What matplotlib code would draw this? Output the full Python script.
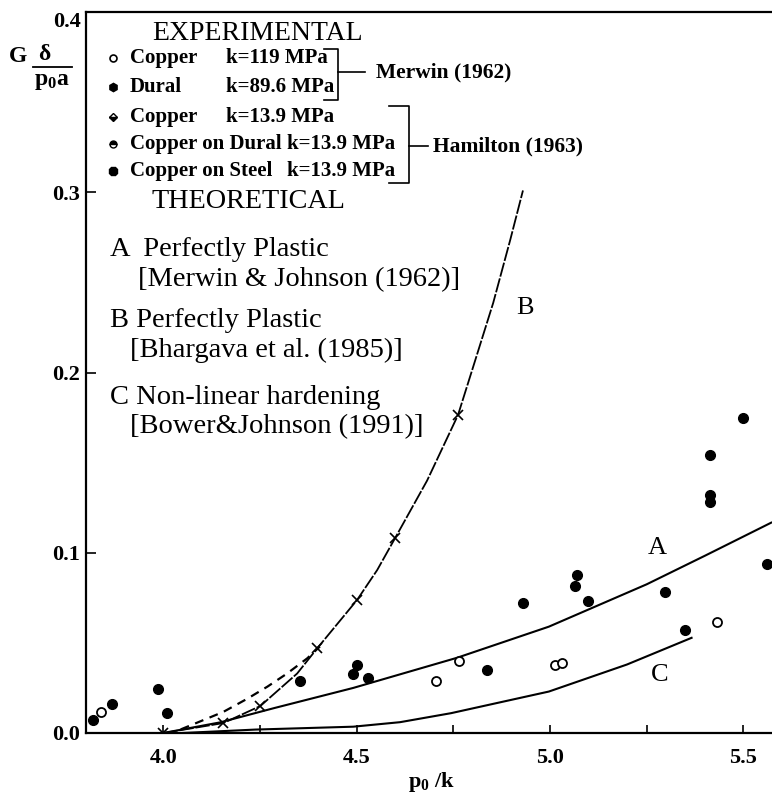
import numpy as np
import matplotlib.pyplot as plt
from matplotlib.lines import Line2D

plt.rcParams['font.family'] = ['Liberation Serif', 'DejaVu Serif']
plt.rcParams['mathtext.fontset'] = 'custom'
plt.rcParams['mathtext.rm'] = 'Liberation Serif:bold'
plt.rcParams['mathtext.bf'] = 'Liberation Serif:bold'
plt.rcParams['mathtext.it'] = 'Liberation Serif:bold'

# --- experimental points ---
copper_119_x = [3.84, 4.705, 4.765, 5.013, 5.031, 5.432]
copper_119_y = [0.0117, 0.029, 0.040, 0.038, 0.039, 0.0616]

dural_x = [4.837, 4.930, 5.070, 5.065, 5.098, 5.297, 5.349, 5.413, 5.413, 5.413, 5.499, 5.561]
dural_y = [0.035, 0.072, 0.0877, 0.0816, 0.073, 0.078, 0.057, 0.154, 0.132, 0.128, 0.175, 0.094]

hamilton_x = [3.819, 3.868, 3.987, 4.010, 4.354, 4.501, 4.491, 4.530]
hamilton_y = [0.0072, 0.016, 0.0244, 0.011, 0.029, 0.0377, 0.033, 0.0305]

# --- theoretical curves ---
curve_a_x = [4.0, 4.147, 4.288, 4.491, 4.759, 4.997, 5.25, 5.402, 5.572]
curve_a_y = [0.0, 0.0059, 0.0139, 0.0250, 0.0417, 0.059, 0.0825, 0.0985, 0.1167]

curve_b_x = [4.0, 4.155, 4.251, 4.346, 4.398, 4.501, 4.553, 4.599, 4.682,
             4.762, 4.801, 4.853, 4.897, 4.930]
curve_b_y = [0.0, 0.0055, 0.015, 0.033, 0.047, 0.0738, 0.0904, 0.108, 0.140,
             0.1764, 0.203, 0.2386, 0.2735, 0.301]
b_marks = [0, 1, 2, 4, 5, 7, 9]

curve_b2_x = [4.045, 4.155, 4.217, 4.269, 4.32, 4.372, 4.405]
curve_b2_y = [0.002, 0.0117, 0.019, 0.0257, 0.033, 0.0414, 0.048]

curve_c_x = [4.05, 4.238, 4.491, 4.612, 4.744, 4.997, 5.199, 5.366]
curve_c_y = [0.0, 0.0019, 0.0035, 0.0060, 0.011, 0.023, 0.038, 0.0528]

x_ticks = [4.0, 4.5, 5.0, 5.5]
x_minor = [4.25, 4.75, 5.25]
y_ticks = [0.0, 0.1, 0.2, 0.3, 0.4]

W, H = 772, 798
fig = plt.figure(figsize=(W / 100, H / 100), dpi=100)
ax = fig.add_axes([86 / W, 1 - 733 / H, (W - 86) / W, (733 - 12) / H])


def px(x, y):
    return x / W, 1 - y / H


# curves
ax.plot(curve_a_x, curve_a_y, color='black', lw=1.5)
ax.plot(curve_c_x, curve_c_y, color='black', lw=1.5)
ax.plot(curve_b_x, curve_b_y, color='black', lw=1.3, ls=(0, (8, 1)),
        marker='x', markevery=b_marks, ms=7, mew=1.2)
ax.plot(curve_b2_x, curve_b2_y, color='black', lw=1.6, ls=(0, (4, 3)))

# experiments
ax.plot(dural_x, dural_y, 'o', color='black', ms=7)
ax.plot(hamilton_x, hamilton_y, 'o', color='black', ms=7)
ax.plot(copper_119_x, copper_119_y, 'o', mfc='white', mec='black', ms=6.5, mew=1.3)

ax.text(5.276, 0.1026, 'A', fontsize=19, ha='center', va='center')
ax.text(4.935, 0.236, 'B', fontsize=19, ha='center', va='center')
ax.text(5.284, 0.032, 'C', fontsize=19, ha='center', va='center')

ax.set_xlim(3.8, 5.574)
ax.set_ylim(0, 0.4)
ax.set_xticks(x_ticks, [f'{v:.1f}' for v in x_ticks], fontsize=16, fontweight='bold')
ax.set_xticks(x_minor, minor=True)
ax.set_yticks(y_ticks, [f'{v:.1f}' for v in y_ticks], fontsize=16, fontweight='bold')
ax.get_yticklabels()[-1].set_va('top')
ax.tick_params(axis='x', which='both', direction='in', length=6, width=1.2, pad=11)
ax.tick_params(axis='y', direction='in', length=7, width=1.2, pad=4)
ax.spines['right'].set_visible(False)
for s in ['left', 'bottom', 'top']:
    ax.spines[s].set_linewidth(1.6)

# y label as a fraction
fig.text(*px(18, 57), 'G', fontsize=17, fontweight='bold', ha='center', va='center')
fig.text(*px(44, 55), 'δ', fontsize=17, fontweight='bold', ha='center', va='center')
fig.add_artist(Line2D([33 / W, 72 / W], [1 - 67 / H, 1 - 67 / H], color='black', lw=1.3))
fig.text(*px(52, 82), r'$\mathbf{p_0 a}$', fontsize=17, ha='center', va='center')

# x label
fig.text(*px(432, 782), r'$\mathbf{p_0}$ /k', fontsize=16, fontweight='bold', ha='center', va='center')

# legend block
fig.text(*px(258, 34), 'EXPERIMENTAL', fontsize=20, ha='center', va='center')
rows = [
    (58, 'Copper', 'k=119 MPa', 226, dict(marker='o', mfc='white', mec='black', mew=1.2, ms=5)),
    (87, 'Dural', 'k=89.6 MPa', 226, dict(marker='h', color='black', ms=6)),
    (117, 'Copper', 'k=13.9 MPa', 226, dict(marker='D', fillstyle='bottom', color='black', mfc='black', mfcalt='white', ms=4.5)),
    (144, 'Copper on Dural', 'k=13.9 MPa', 287, dict(marker='o', fillstyle='top', color='black', mfc='black', mfcalt='white', ms=5)),
    (171, 'Copper on Steel', 'k=13.9 MPa', 287, dict(marker='8', color='black', ms=6)),
]
for y, name, k, kx, mk in rows:
    fig.add_artist(Line2D([113 / W], [1 - y / H], **mk))
    fig.text(*px(130, y), name, fontsize=15, fontweight='bold', ha='left', va='center')
    fig.text(*px(kx, y), k, fontsize=15, fontweight='bold', ha='left', va='center')

# brackets
def seg(xs, ys):
    fig.add_artist(Line2D([v / W for v in xs], [1 - v / H for v in ys], color='black', lw=1.2))

seg([324, 338, 338, 324], [49, 49, 100, 100])
seg([338, 365], [72, 72])
fig.text(*px(376, 72), 'Merwin (1962)', fontsize=15.5, fontweight='bold', ha='left', va='center')
seg([389, 409, 409, 389], [106, 106, 183, 183])
seg([409, 428], [146, 146])
fig.text(*px(433, 146), 'Hamilton (1963)', fontsize=15.5, fontweight='bold', ha='left', va='center')

fig.text(*px(152, 201), 'THEORETICAL', fontsize=20.3, ha='left', va='center')
theory = [
    (110, 250, 'A  Perfectly Plastic'),
    (138, 280, '[Merwin & Johnson (1962)]'),
    (110, 321, 'B Perfectly Plastic'),
    (130, 350, '[Bhargava et al. (1985)]'),
    (110, 397, 'C Non-linear hardening'),
    (130, 427, '[Bower&Johnson (1991)]'),
]
for x, y, t in theory:
    fig.text(*px(x, y), t, fontsize=20.5, ha='left', va='center')

fig.savefig('out.png', dpi=100, facecolor='white')
